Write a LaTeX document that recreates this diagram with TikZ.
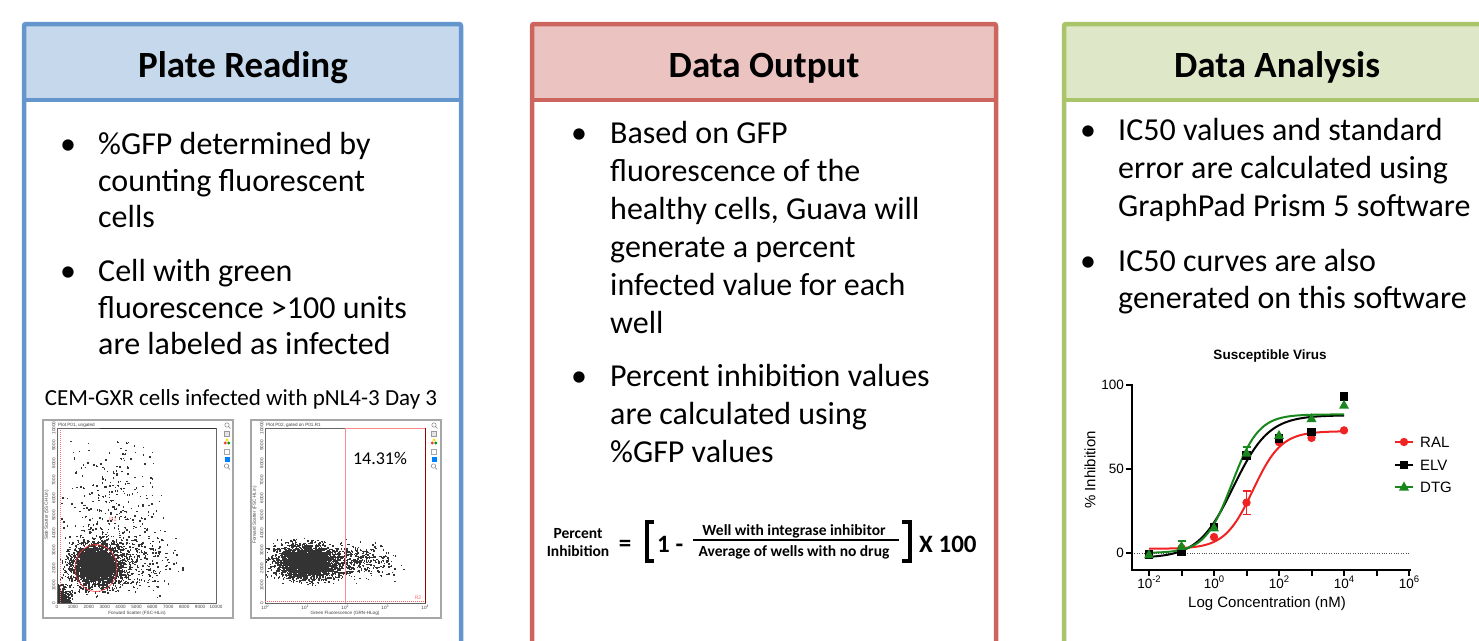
\documentclass[tikz,border=0pt]{standalone}
\usepackage{fontspec}
\setmainfont{Carlito}
\newfontfamily\arialf{Liberation Sans}
\usetikzlibrary{plotmarks}
\definecolor{bluebd}{RGB}{100,150,205}
\definecolor{bluefill}{RGB}{198,217,236}
\definecolor{redbd}{RGB}{205,101,95}
\definecolor{redfill}{RGB}{235,195,193}
\definecolor{greenbd}{RGB}{170,197,105}
\definecolor{greenfill}{RGB}{222,231,199}
\definecolor{ralc}{RGB}{240,35,35}
\definecolor{dtgc}{RGB}{25,135,30}
\newcommand\plotIcons[1]{%
  \draw[gray, line width=0.5] (#1,425) circle (2.2);
  \draw[gray, line width=0.6] (#1+1.5,426.5) -- (#1+3.5,428.5);
  \draw[gray!80, fill=gray!20, line width=0.4] (#1-2.5,431) rectangle (#1+2.5,436);
  \fill[yellow!80!orange] (#1,440) circle (1.6);
  \fill[red!80] (#1-1.7,443) circle (1.6);
  \fill[green!60!black] (#1+1.7,443) circle (1.6);
  \draw[gray!70, line width=0.4] (#1-2.5,449) rectangle (#1+2.5,454);
  \fill[blue!50!cyan] (#1-2.5,457) rectangle (#1+2.5,462);
  \draw[gray, line width=0.5] (#1-0.5,466) circle (2.2);
  \draw[gray, line width=0.6] (#1+1,467.5) -- (#1+3,469.5);
}
\begin{document}
\begin{tikzpicture}[x=1pt,y=-1pt,
  body/.style={font=\fontsize{32}{38}\selectfont, inner sep=0, anchor=base west},
  bul/.style={font=\fontsize{32}{38}\selectfont, inner sep=0, anchor=base},
  ttl/.style={font=\fontsize{37}{44}\selectfont\bfseries, inner sep=0, anchor=base},
  captxt/.style={font=\fontsize{23}{27}\selectfont, inner sep=0, anchor=base},
  fb/.style={font=\fontsize{15.5}{18}\selectfont\bfseries, inner sep=0, anchor=base},
  fbig/.style={font=\fontsize{25}{30}\selectfont\bfseries, inner sep=0, anchor=base west},
  tiny/.style={font=\arialf\fontsize{4.6}{5}\selectfont, inner sep=0, text=black!75},
  ch/.style={font=\arialf\fontsize{15}{18}\selectfont, inner sep=0},
  cht/.style={font=\arialf\fontsize{13.5}{16}\selectfont, inner sep=0},
  chb/.style={font=\arialf\fontsize{13.5}{16}\selectfont\bfseries, inner sep=0, anchor=base},
  panelline/.style={line width=4.5, rounded corners=2},
  dots/.style={black!80, line width=0},
]
\useasboundingbox (0,0) rectangle (1479,640);
\clip (0,0) rectangle (1479,640);
\pgfmathsetseed{4242}

% ---------------- panels ----------------
\fill[bluefill] (24,24) rectangle (461,100);
\draw[panelline, bluebd] (24,660) -- (24,24) -- (461,24) -- (461,660);
\draw[bluebd, line width=4.5] (24,100) -- (461,100);

\fill[redfill] (532,24) rectangle (996,100);
\draw[panelline, redbd] (532,660) -- (532,24) -- (996,24) -- (996,660);
\draw[redbd, line width=4.5] (532,100) -- (996,100);

\fill[greenfill] (1064,24) rectangle (1500,100);
\draw[panelline, greenbd] (1064,660) -- (1064,24) -- (1500,24);
\draw[greenbd, line width=4.5] (1064,100) -- (1500,100);

\node[ttl] (t1) at (243,77) {Plate Reading};
\node[ttl] (t2) at (764,77) {Data Output};
\node[ttl] (t3) at (1277,77) {Data Analysis};

% ---------------- panel 1 text ----------------
\node[bul] (b11) at (68,154) {•};
\node[body] (a1) at (98,154) {\%GFP determined by};
\node[body] (a2) at (98,191) {counting fluorescent};
\node[body] (a3) at (98,227) {cells};
\node[bul] (b12) at (68,281) {•};
\node[body] (a4) at (98,281) {Cell with green};
\node[body] (a5) at (98,318) {fluorescence >100 units};
\node[body] (a6) at (98,354) {are labeled as infected};
\node[captxt] (capt) at (241,405) {CEM-GXR cells infected with pNL4-3 Day 3};

% ---------------- plot 1 ----------------
\draw[gray!70, line width=1.2] (43,420) rectangle (233,618);
\begin{scope}
\clip (57,428) rectangle (216,603);
\draw[dots] plot[only marks, mark=square*, mark size=0.22, samples=350, domain=0:1]
  ({58+55*(rnd+rnd)}, {600-86*(rnd+rnd)});
\draw[dots] plot[only marks, mark=square*, mark size=0.22, samples=400, domain=0:1]
  ({60+62*(rnd+rnd)}, {598-36*(rnd+rnd)});
\draw[dots] plot[only marks, mark=square*, mark size=0.22, samples=2000, domain=0:1]
  ({96+26*(rnd+rnd+rnd-1.5)}, {566+22*(rnd+rnd+rnd-1.5)});
\draw[dots] plot[only marks, mark=square*, mark size=0.22, samples=1200, domain=0:1]
  ({96+14*(rnd+rnd+rnd-1.5)}, {566+12*(rnd+rnd+rnd-1.5)});
\draw[dots] plot[only marks, mark=square*, mark size=0.22, samples=700, domain=0:1]
  ({57+16*rnd*rnd}, {603-20*rnd*rnd});
\end{scope}
\draw[red!55, line width=0.4, dash pattern=on 1pt off 1pt] (60,428) -- (60,603);
\draw[black!60, line width=0.4] (57,428) rectangle (216,603);
\draw[black!80, line width=0.8] (100,428) -- (216,428);
\draw[red!80, line width=0.6] (96,568) ellipse (21 and 23.5);
\fill[red] (96,545) circle (1);
\node[tiny, text=red!50, font=\arialf\fontsize{6}{6}\selectfont] (r1) at (113,519) {R1};
\node[tiny, anchor=base west] (p1t) at (58,426) {Plot P01, ungated};
\foreach \v [count=\k from 0] in {0,1000,2000,3000,4000,5000,6000,7000,8000,9000,10000}{
  \node[tiny, anchor=north] (p1x\k) at ({57+15.9*\k},605) {\v};
  \node[tiny, rotate=90, anchor=south] (p1y\k) at (55.5,{603-17.5*\k}) {\v};
}
\node[tiny, anchor=north] (p1xl) at (137,611) {Forward Scatter (FSC-HLin)};
\node[tiny, rotate=90, anchor=south] (p1yl) at (49,515) {Side Scatter (SSC-HLin)};
\plotIcons{227}

% ---------------- plot 2 ----------------
\draw[gray!70, line width=1.2] (251,420) rectangle (441,618);
\begin{scope}
\clip (265,428) rectangle (425,603);
\draw[dots] plot[only marks, mark=square*, mark size=0.22, samples=2200, domain=0:1]
  ({305+30*(rnd+rnd+rnd-1.5)}, {562+17*(rnd+rnd+rnd-1.5)});
\draw[dots] plot[only marks, mark=square*, mark size=0.22, samples=900, domain=0:1]
  ({305+16*(rnd+rnd+rnd-1.5)}, {562+10*(rnd+rnd+rnd-1.5)});
\draw[dots] plot[only marks, mark=square*, mark size=0.22, samples=550, domain=0:1]
  ({345+44*(rnd+rnd+rnd-1.5)}, {562+16*(rnd+rnd+rnd-1.5)});
\end{scope}
\draw[black!60, line width=0.4] (265,428) rectangle (425,603);
\draw[red!45, line width=0.6] (345,428) -- (345,603);
\draw[red!45, line width=0.6] (345,428) -- (425,428);
\draw[red!60!black, line width=0.7] (425,428) -- (425,603);
\draw[red!60, line width=0.4, dash pattern=on 1pt off 1pt] (265,601) -- (425,601);
\node[tiny, text=red!60, font=\arialf\fontsize{5}{5}\selectfont] (r2) at (418,598) {R2};
\node[font=\fontsize{18}{20}\selectfont, inner sep=0, anchor=base] (pct) at (380,464) {14.31\%};
\node[tiny, anchor=base west] (p2t) at (266,426) {Plot P02, gated on P01.R1};
\foreach \v [count=\k from 0] in {0,1000,2000,3000,4000,5000,6000,7000,8000,9000,10000}{
  \node[tiny, rotate=90, anchor=south] (p2y\k) at (263.5,{603-17.5*\k}) {\v};
}
\foreach \e [count=\k from 0] in {0,1,2,3,4}{
  \node[tiny, anchor=north] (p2x\k) at ({265+40*\k},605) {10\raisebox{1.5pt}{\fontsize{3.5}{4}\selectfont\e}};
}
\node[tiny, anchor=north] (p2xl) at (345,611) {Green Fluorescence (GRN-HLog)};
\node[tiny, rotate=90, anchor=south] (p2yl) at (257,515) {Forward Scatter (FSC-HLin)};
\plotIcons{434}

% ---------------- panel 2 text ----------------
\node[bul] (b21) at (579,143) {•};
\node[body] (c1) at (610,143) {Based on GFP};
\node[body] (c2) at (610,181) {fluorescence of the};
\node[body] (c3) at (610,219) {healthy cells, Guava will};
\node[body] (c4) at (610,257) {generate a percent};
\node[body] (c5) at (610,295) {infected value for each};
\node[body] (c6) at (610,333) {well};
\node[bul] (b22) at (579,386) {•};
\node[body] (c7) at (610,386) {Percent inhibition values};
\node[body] (c8) at (610,424) {are calculated using};
\node[body] (c9) at (610,462) {\%GFP values};

% formula
\node[fb] (fpc) at (578,538) {Percent};
\node[fb] (finh) at (578,556) {Inhibition};
\node[fbig, anchor=base] (feq) at (625,551) {=};
\draw[line width=4.5] (654,522) -- (647,522) -- (647,561) -- (654,561);
\node[fbig] (fone) at (657,552) {1 -};
\draw[line width=1.6] (693,540) -- (899,540);
\node[fb] (fnum) at (794,535) {Well with integrase inhibitor};
\node[fb] (fden) at (794,556) {Average of wells with no drug};
\draw[line width=4.5] (902,522) -- (910,522) -- (910,561) -- (902,561);
\node[fbig] (fx) at (919,552) {X 100};

% ---------------- panel 3 text ----------------
\node[bul] (b31) at (1088,140) {•};
\node[body] (d1) at (1118,140) {IC50 values and standard};
\node[body] (d2) at (1118,178) {error are calculated using};
\node[body] (d3) at (1118,216) {GraphPad Prism 5 software};
\node[bul] (b32) at (1088,271) {•};
\node[body] (d4) at (1118,271) {IC50 curves are also};
\node[body] (d5) at (1118,308) {generated on this software};

% ---------------- chart ----------------
\node[chb] (ctitle) at (1270,359) {Susceptible Virus};
\draw[black!70, line width=0.6, dash pattern=on 0.8pt off 1.6pt] (1132,553) -- (1410,553);
\draw[line width=2.6, line cap=rect] (1132,385) -- (1132,570) -- (1410,570);
\foreach \yy/\lab in {385/100, 469/50, 553/0}{
  \draw[line width=2] (1126,\yy) -- (1132,\yy);
  \node[cht, anchor=east] (yt\lab) at (1124,\yy) {\lab};
}
\foreach \l in {-2,-1,...,6}{
  \draw[line width=2] ({1214+32.5*\l},570) -- ({1214+32.5*\l},576);
}
\foreach \l/\lab in {-2/-2, 0/0, 2/2, 4/4, 6/6}{
  \node[cht, anchor=base] (xt\l) at ({1214+32.5*\l},588) {10\raisebox{0.42em}{\fontsize{9.5}{10}\selectfont\lab}};
}
\node[ch, anchor=base] (xlab) at (1267,607) {Log Concentration (nM)};
\node[ch, rotate=90] (ylab) at (1090,470) {\% Inhibition};

% curves
\draw[ralc, line width=2] plot[domain=-2:4, samples=90, smooth]
  ({1214+32.5*\x}, {553-1.68*(2.5+70/(1+10^(1.2-\x)))});
\draw[black, line width=2] plot[domain=-2:4, samples=90, smooth]
  ({1214+32.5*\x}, {553-1.68*(-3+85/(1+10^(0.8*(0.6-\x))))});
\draw[dtgc, line width=2] plot[domain=-2:4, samples=90, smooth]
  ({1214+32.5*\x}, {553-1.68*(82.5/(1+10^(1.05*(0.55-\x))))});

% error bars
\draw[ralc, line width=1.5] ({1214+32.5},{553-1.68*23}) -- ({1214+32.5},{553-1.68*37})
  ({1214+32.5-4},{553-1.68*23}) -- ({1214+32.5+4},{553-1.68*23})
  ({1214+32.5-4},{553-1.68*37}) -- ({1214+32.5+4},{553-1.68*37});
\draw[dtgc, line width=1.5] ({1214-32.5},{553-1.68*1}) -- ({1214-32.5},{553-1.68*7})
  ({1214-32.5-4},{553-1.68*1}) -- ({1214-32.5+4},{553-1.68*1})
  ({1214-32.5-4},{553-1.68*7}) -- ({1214-32.5+4},{553-1.68*7});
\draw[dtgc, line width=1.5] ({1214+32.5},{553-1.68*56}) -- ({1214+32.5},{553-1.68*63})
  ({1214+32.5-4},{553-1.68*63}) -- ({1214+32.5+4},{553-1.68*63});

% RAL points (circles)
\foreach \l/\v in {-2/-1, -1/3, 0/9.5, 1/30, 2/66, 3/68.5, 4/73}{
  \fill[ralc] ({1214+32.5*\l},{553-1.68*\v}) circle (4.2);
}
% ELV points (squares)
\foreach \l/\v in {-2/-1, -1/0.5, 0/15.5, 1/58, 2/68, 3/72, 4/93}{
  \fill[black] ({1214+32.5*\l-4.3},{553-1.68*\v-4.3}) rectangle ++(8.6,8.6);
}
% DTG points (triangles)
\foreach \l/\v in {-2/-1, -1/4, 0/15, 1/59.5, 2/70, 3/80, 4/88}{
  \fill[dtgc] ({1214+32.5*\l},{553-1.68*\v-5.5}) -- ++(5,9) -- ++(-10,0) -- cycle;
}

% legend
\draw[ralc, line width=2] (1395,442) -- (1413,442);
\fill[ralc] (1404,442) circle (4.2);
\node[ch, anchor=base west] (lral) at (1420,447.5) {RAL};
\draw[black, line width=2] (1395,465) -- (1413,465);
\fill[black] (1399.7,460.7) rectangle ++(8.6,8.6);
\node[ch, anchor=base west] (lelv) at (1420,470.5) {ELV};
\draw[dtgc, line width=2] (1395,487) -- (1413,487);
\fill[dtgc] (1404,481.5) -- ++(5,9) -- ++(-10,0) -- cycle;
\node[ch, anchor=base west] (ldtg) at (1420,492.5) {DTG};
\end{tikzpicture}
\end{document}
